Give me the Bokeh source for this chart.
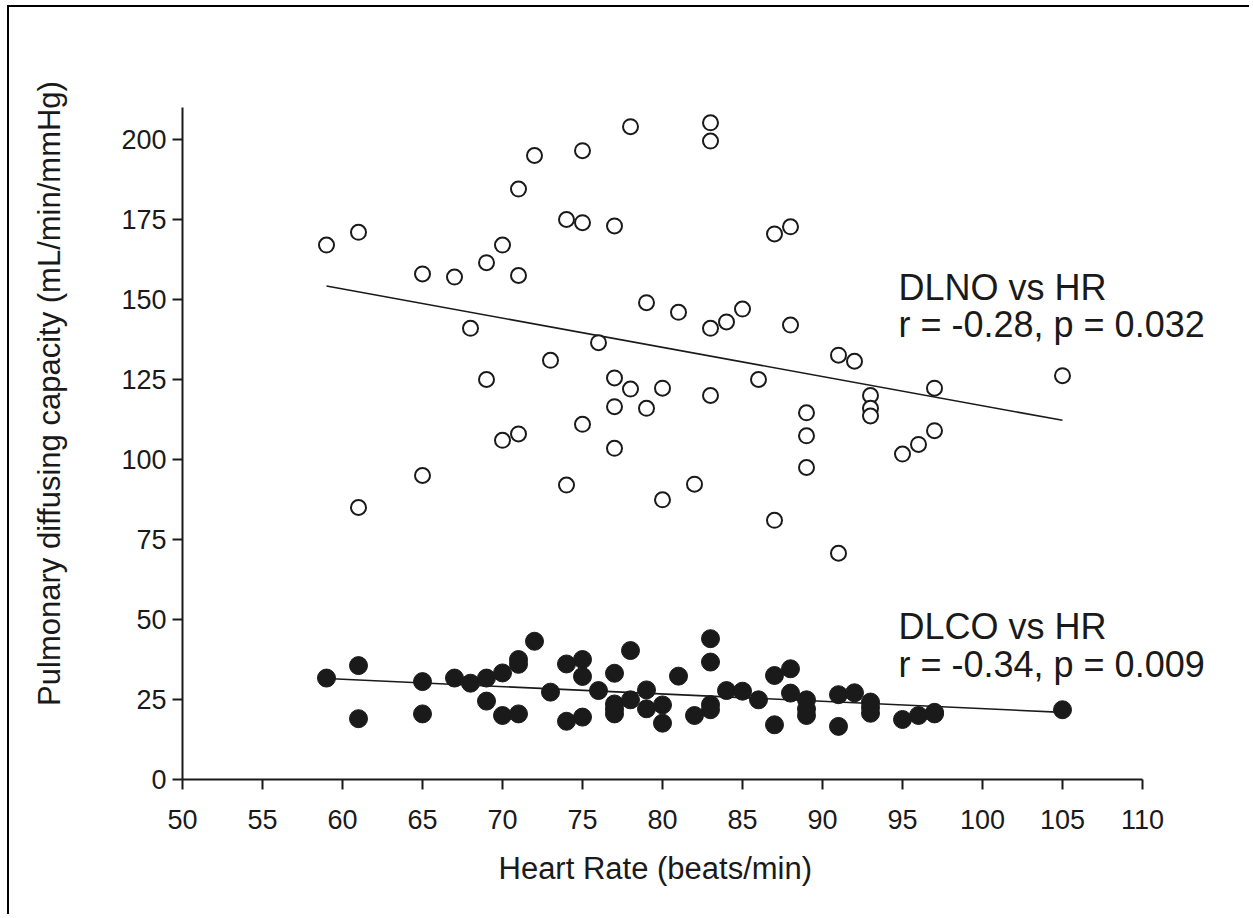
import numpy as np
from bokeh.plotting import figure
from bokeh.models import ColumnDataSource, Label, FixedTicker, Range1d, Title
from bokeh.embed import file_html
from bokeh.resources import INLINE

# ---- data ----
hr = [59, 61, 61, 65, 65, 67, 68, 69, 69, 70, 70, 71, 71, 71, 72, 73, 74, 74,
      75, 75, 75, 76, 77, 77, 77, 77, 78, 78, 79, 79, 80, 80, 81, 82, 83, 83,
      83, 83, 84, 85, 86, 87, 87, 88, 88, 89, 89, 89, 91, 91, 92, 93, 93, 93,
      95, 96, 97, 97, 105]

dlno = [167, 171, 85, 158, 95, 157, 141, 161.5, 125, 167, 106, 184.5, 157.5, 108,
        195, 131, 175, 92, 196.5, 174, 111, 136.5, 173, 125.5, 116.5, 103.5,
        204, 122, 149, 116, 122.3, 87.4, 146, 92.3, 205.2, 199.5, 141, 120,
        143, 147, 125, 170.5, 81, 172.7, 142, 114.6, 107.4, 97.5, 132.6, 70.7,
        130.7, 120, 116, 113.6, 101.7, 104.7, 122.3, 109, 126.2]

dlco = [31.7, 35.6, 19, 30.6, 20.5, 31.7, 30.1, 31.7, 24.5, 33.3, 20, 37.5, 36,
        20.5, 43.2, 27.3, 36.1, 18.2, 37.5, 32.2, 19.5, 27.8, 33.2, 23.6, 22,
        20.5, 40.3, 24.9, 28, 22.1, 23.3, 17.6, 32.3, 20, 44, 36.7, 23.4, 21.8,
        27.8, 27.6, 24.9, 32.5, 17.1, 34.6, 27, 24.9, 22, 20, 26.5, 16.6, 27.1,
        24.2, 22.5, 20.7, 18.75, 20, 21, 20.5, 21.8]

x_ticks = [50, 55, 60, 65, 70, 75, 80, 85, 90, 95, 100, 105, 110]
y_ticks = [0, 25, 50, 75, 100, 125, 150, 175, 200]
x_axis_span = (50, 110)
y_axis_span = (0, 210)

no_text = ["DLNO vs HR", "r = -0.28, p = 0.032"]
co_text = ["DLCO vs HR", "r = -0.34, p = 0.009"]
x_title = "Heart Rate (beats/min)"
y_title = "Pulmonary diffusing capacity (mL/min/mmHg)"

FONT = "Liberation Sans"
INK = "#1a1a1a"

# geometry: the frame runs to the right/top edges so that the notes are not clipped;
# the axes themselves are bounded to the reference spans
W, H = 1242, 909
ML, MB = 173, 137
PX_PER_X = 16.0     # pixels per beat/min
PX_PER_Y = 3.2      # pixels per mL/min/mmHg
x_end = x_axis_span[0] + (W - ML) / PX_PER_X
y_end = y_axis_span[0] + (H - MB) / PX_PER_Y

p = figure(width=W, height=H, output_backend="svg", toolbar_location=None,
           x_range=Range1d(x_axis_span[0], x_end), y_range=Range1d(y_axis_span[0], y_end),
           min_border_left=ML, min_border_right=0, min_border_top=0,
           min_border_bottom=MB,
           styles={"border-top": "2px solid black", "border-left": "2px solid black",
                   "margin-left": "7px", "margin-top": "5px"})
p.background_fill_color = "white"
p.border_fill_color = "white"
p.outline_line_color = None
p.grid.visible = False

for ax in (p.xaxis[0], p.yaxis[0]):
    ax.axis_line_width = 2
    ax.axis_line_color = INK
    ax.major_tick_line_width = 2
    ax.major_tick_line_color = INK
    ax.major_tick_in = 0
    ax.major_tick_out = 10
    ax.minor_tick_line_color = None
    ax.major_label_text_font = FONT
    ax.major_label_text_font_size = "27px"
    ax.major_label_text_color = INK
    ax.axis_label_text_font = FONT
    ax.axis_label_text_font_size = "31px"
    ax.axis_label_text_font_style = "normal"
    ax.axis_label_text_color = INK

p.xaxis[0].bounds = x_axis_span
p.yaxis[0].bounds = y_axis_span
p.xaxis[0].ticker = FixedTicker(ticks=x_ticks)
p.yaxis[0].ticker = FixedTicker(ticks=y_ticks)
p.xaxis[0].major_label_standoff = 20
p.yaxis[0].major_label_standoff = 6
p.yaxis[0].axis_label = y_title
p.yaxis[0].axis_label_standoff = 51

# x title as a below-panel title, positioned under the bounded axis
p.add_layout(Title(text=x_title, align="left", offset=316, standoff=35,
                   text_font=FONT, text_font_size="31px", text_font_style="normal",
                   text_color=INK), "below")

# regression lines computed from the data
xs = np.array(hr, dtype=float)
xfit = np.array([xs.min(), xs.max()])
for ys in (dlno, dlco):
    k, b = np.polyfit(xs, np.array(ys, dtype=float), 1)
    p.line(xfit, k * xfit + b, line_color=INK, line_width=1.6)

src = ColumnDataSource(dict(hr=hr, dlno=dlno, dlco=dlco))
p.scatter("hr", "dlno", source=src, size=15, marker="circle",
          fill_color="white", line_color=INK, line_width=2)
p.scatter("hr", "dlco", source=src, size=18, marker="circle",
          fill_color=INK, line_color=INK, line_width=1)

# annotations
for txt, yv in zip(no_text, [153.8, 142.2]):
    p.add_layout(Label(x=94.75, y=yv, text=txt, text_font=FONT, text_font_size="36px",
                       text_color=INK, text_baseline="alphabetic", text_align="left"))
for txt, yv in zip(co_text, [47.8, 35.9]):
    p.add_layout(Label(x=94.75, y=yv, text=txt, text_font=FONT, text_font_size="36px",
                       text_color=INK, text_baseline="alphabetic", text_align="left"))

open("out.html", "w").write(file_html(p, INLINE))
